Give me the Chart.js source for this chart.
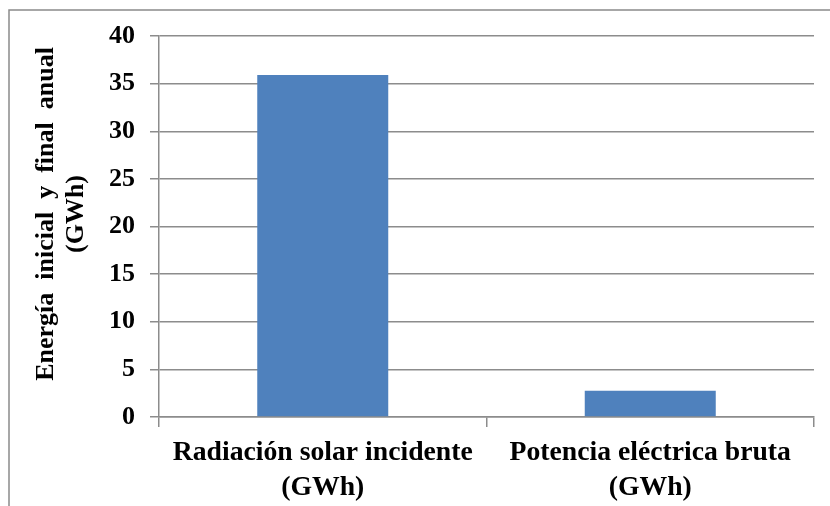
<!DOCTYPE html>
<html>
<head>
<meta charset="utf-8">
<script src="https://cdn.jsdelivr.net/npm/chart.js@4/dist/chart.umd.min.js"></script>
<style>
  html, body { margin: 0; padding: 0; background: #fff; }
  #wrap { width: 830px; height: 506px; position: relative; }
</style>
</head>
<body>
<div id="wrap"><canvas id="c" width="830" height="506"></canvas></div>
<script>
// Annual incoming solar energy vs. gross electrical output
const categories = [
  ['Radiación solar incidente', '(GWh)'],
  ['Potencia eléctrica bruta', '(GWh)']
];
const energyGWh = [35.9, 2.75];
const yTitleLines = ['Energía  inicial  y  final  anual', '(GWh)'];
const yMin = 0, yMax = 40, yStep = 5;

const FONT = '"Liberation Serif", "Times New Roman", serif';
const GRID = '#8c8c8c';

// Outer frame of the chart object
const framePlugin = {
  id: 'frame',
  beforeDraw(chart) {
    const ctx = chart.ctx;
    ctx.save();
    ctx.fillStyle = '#fff';
    ctx.fillRect(0, 0, chart.width, chart.height);
    ctx.strokeStyle = '#8a8a8a';
    ctx.lineWidth = 1.5;
    ctx.strokeRect(9, 10, chart.width + 20, chart.height + 20);
    ctx.restore();
  }
};

// Two-line rotated title beside the value axis
const yTitlePlugin = {
  id: 'yTitle',
  afterDraw(chart) {
    const ctx = chart.ctx;
    const cy = 214;
    const xs = [46, 76];
    ctx.save();
    ctx.fillStyle = '#000';
    ctx.font = 'bold 26px ' + FONT;
    ctx.textAlign = 'center';
    ctx.textBaseline = 'middle';
    yTitleLines.forEach((t, i) => {
      ctx.save();
      ctx.translate(xs[i], cy);
      ctx.rotate(-Math.PI / 2);
      ctx.fillText(t, 0, 0);
      ctx.restore();
    });
    ctx.restore();
  }
};

new Chart(document.getElementById('c'), {
  type: 'bar',
  data: {
    labels: categories,
    datasets: [{
      data: energyGWh,
      backgroundColor: '#4f81bd',
      borderWidth: 0,
      barPercentage: 0.4,
      categoryPercentage: 1.0
    }]
  },
  options: {
    responsive: false,
    animation: false,
    devicePixelRatio: 1,
    layout: { padding: { left: 0, top: 36, right: 16, bottom: 0 } },
    plugins: {
      legend: { display: false },
      tooltip: { enabled: false }
    },
    scales: {
      x: {
        offset: true,
        grid: {
          offset: true,
          drawOnChartArea: false,
          drawTicks: true,
          tickLength: 10,
          color: GRID,
          lineWidth: 1.5
        },
        border: { display: true, color: GRID, width: 1.5 },
        ticks: {
          color: '#000',
          padding: 8,
          maxRotation: 0,
          autoSkip: false,
          font: { family: FONT, size: 27.7, weight: 'bold', lineHeight: 1.27 }
        },
        afterFit(s) { s.height = 89; }
      },
      y: {
        min: yMin,
        max: yMax,
        grid: {
          color: GRID,
          lineWidth: 1.5,
          drawTicks: true,
          tickLength: 9
        },
        border: { display: true, color: GRID, width: 1.5 },
        ticks: {
          stepSize: yStep,
          color: '#000',
          padding: 15,
          font: { family: FONT, size: 26, weight: 'bold' }
        },
        afterFit(s) { s.width = 159; }
      }
    }
  },
  plugins: [framePlugin, yTitlePlugin]
});
</script>
</body>
</html>
